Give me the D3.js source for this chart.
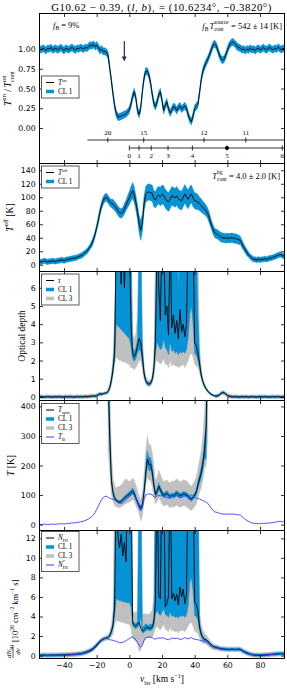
<!DOCTYPE html>
<html><head><meta charset="utf-8">
<script src="https://cdnjs.cloudflare.com/ajax/libs/d3/7.8.5/d3.min.js"></script>
<style>body{margin:0;background:#fff}svg{display:block}</style>
</head><body>
<script>
// ---------------- DATA ----------------
const velocity = d3.range(-55, 96); // channel grid, km/s (1 km/s spacing)
const xTicks = [-40, -20, 0, 20, 40, 60, 80];

// Panel 1: T_on / T_on_cont
const ton = [
1.00,0.99,1.01,1.00,0.98,1.01,1.00,1.02,0.99,1.00,
1.01,0.99,1.00,1.02,1.00,0.98,1.01,1.00,0.99,1.01,
1.02,1.00,0.99,1.01,1.00,1.02,1.01,1.00,1.02,1.01,
1.03,1.05,1.04,1.06,1.03,1.05,1.02,0.98,1.00,0.97,
0.97,0.96,0.92,0.76,0.60,0.43,0.28,0.18,0.14,0.14,
0.15,0.16,0.17,0.18,0.20,0.23,0.30,0.40,0.46,0.38,
0.22,0.17,0.26,0.47,0.63,0.72,0.72,0.67,0.57,0.43,
0.31,0.27,0.33,0.42,0.46,0.35,0.22,0.29,0.33,0.24,
0.19,0.23,0.27,0.26,0.22,0.26,0.28,0.24,0.26,0.28,
0.25,0.17,0.11,0.08,0.15,0.25,0.27,0.30,0.45,0.61,
0.72,0.78,0.83,0.87,0.92,0.98,1.04,1.07,1.05,1.00,
0.93,0.88,0.86,0.87,0.92,0.98,1.04,1.07,1.09,1.08,
1.06,1.03,1.02,1.01,0.99,1.00,0.98,1.00,0.99,1.01,
0.99,1.00,0.98,1.00,1.01,0.99,1.00,1.02,1.00,0.99,
1.01,1.02,1.00,0.99,1.01,1.00,1.02,1.01,0.99,1.01,
1.00];
const tonErr = 0.045;
const yTicks1 = [0, 0.25, 0.5, 0.75, 1.0];
const rgalVel = [-13.2, 8.8, 45.7, 71.3];
const rgalLabels = ["20", "15", "12", "11"];
const rgalStart = -25.7;
const distVel = [0, 5.9, 13.4, 23.7, 38.6, 59.8, 93.6];
const distLabels = ["0", "1", "2", "3", "4", "5", "6"];
const distMarked = 5;
const arrowVel = -3.1, arrowFrom = 1.10, arrowTo = 0.85;

// Panel 2: T_off
const toff = [
5,4,5,6,5,4,5,5,6,5,
5,6,6,7,7,6,7,8,8,9,
9,10,10,11,12,13,14,16,18,20,
23,27,31,37,45,55,66,78,88,95,
99,100,97,93,91,90,87,84,80,77,
76,78,83,88,94,99,105,110,104,92,
78,60,51,62,90,104,107,108,107,106,
98,96,101,103,101,104,103,98,95,93,
97,102,101,99,102,98,96,95,100,105,
100,97,102,105,99,95,94,93,90,88,
85,83,80,76,69,61,54,48,46,45,
43,41,40,40,39,40,39,40,40,39,
39,38,37,36,31,26,22,18,15,12,
10,8,8,7,8,7,8,8,9,8,
9,10,10,11,12,13,14,15,15,13,
13];
const toffErr = [
4,4,4,4,4,4,4,4,4,4,
4,4,4,4,4,4,4,4,4,4,
4,4,4,4,4,4,4,4,4,4,
4,4,5,5,5,5,6,6,6,6,
6,6,6,6,6,7,7,7,7,7,
7,7,8,8,9,10,11,12,12,11,
11,13,15,13,12,12,12,12,12,12,
12,12,13,13,14,14,14,14,14,14,
14,14,14,14,14,14,14,14,14,14,
14,14,14,13,13,12,12,11,10,10,
9,9,8,8,8,7,7,7,7,7,
7,7,7,7,7,7,7,7,7,7,
7,7,7,6,6,5,5,5,4,4,
4,4,4,4,4,4,4,4,4,4,
4,4,4,4,4,4,4,4,4,4,
4];
const yTicks2 = [0, 20, 40, 60, 80, 100, 120, 140];

// Panel 3: optical depth (values above the frame are saturated)
const tau = [
0.00,0.01,0.00,-0.01,0.00,0.01,0.00,0.00,-0.01,0.01,
0.00,0.00,0.01,0.00,-0.01,0.00,0.01,0.00,0.00,0.01,
0.00,-0.01,0.00,0.01,0.00,0.01,0.00,0.01,0.02,0.01,
0.02,0.03,0.04,0.05,0.04,0.06,0.12,0.16,0.15,0.17,
0.20,0.22,0.30,0.50,0.90,1.50,2.40,9,9,9,
6.2,9,6.0,9,9,9,4.0,2.4,2.2,2.4,
2.8,3.2,3.0,2.2,1.3,0.90,0.75,0.70,0.75,0.95,
1.5,3.0,9,6.0,4.2,9,9,4.5,5.0,3.4,
9,3.8,4.5,3.5,4.2,3.2,4.8,3.6,4.0,3.3,
4.0,9,9,9,9,3.0,2.8,2.4,1.8,1.2,
0.85,0.60,0.45,0.32,0.22,0.15,0.10,0.06,0.04,0.06,
0.10,0.18,0.24,0.22,0.16,0.08,0.04,0.02,0.01,0.00,
0.01,0.00,-0.01,0.00,0.01,0.00,0.00,0.01,-0.01,0.00,
0.01,0.00,0.00,-0.01,0.00,0.01,0.00,0.00,0.01,0.00,
0.00,-0.01,0.00,0.01,0.00,0.00,0.01,0.00,-0.01,0.00,
0.00];
const tauCoreStart = -16; // core band arrays cover -16 .. 52 km/s
const tauCl1Lo = [
0.14,0.17,0.19,0.25,0.44,0.80,1.32,2.00,4.0,3.9,
3.8,3.7,3.6,3.5,3.4,3.3,3.2,2.8,2.1,1.95,
2.1,2.4,2.6,2.5,1.9,1.15,0.80,0.67,0.62,0.67,
0.85,1.30,2.4,3.0,2.8,2.6,2.7,3.2,2.7,2.6,
2.3,3.0,2.5,2.6,2.4,2.5,2.3,2.5,2.4,2.5,
2.4,2.6,3.2,4.5,5.0,4.0,2.4,2.3,2.0,1.6,
1.1,0.78,0.54,0.40,0.28,0.18,0.12,0.07,0.03];
const tauCl1Hi = [
0.20,0.23,0.25,0.35,0.60,1.05,1.80,3.2,9,9,
9,9,9,9,9,9,9,9,2.7,2.5,
2.7,3.2,9,9,2.7,1.5,1.0,0.83,0.78,0.84,
1.07,1.75,4.5,9,9,6.5,9,9,9,9,
9,9,9,9,9,9,6.0,9,9,9,
9,9,9,9,9,9,9,9,4.5,2.2,
1.35,0.93,0.66,0.50,0.36,0.26,0.19,0.13,0.09];
const tauCl3Lo = [
0.10,0.12,0.13,0.15,0.30,0.60,1.10,1.80,2.2,2.1,
2.0,2.0,1.9,1.9,1.9,1.8,1.8,1.6,1.6,1.5,
1.6,1.8,2.0,2.0,1.5,1.0,0.70,0.58,0.55,0.58,
0.75,1.10,1.9,2.0,1.9,1.8,1.9,2.1,1.8,1.8,
1.6,2.0,1.7,1.8,1.7,1.7,1.6,1.7,1.7,1.8,
1.6,1.8,2.0,2.3,2.4,2.2,1.8,1.7,1.6,1.3,
0.95,0.68,0.47,0.34,0.23,0.14,0.08,0.03,0.00];
const tauCl3Hi = [
0.25,0.29,0.32,0.45,0.75,1.30,2.2,4.5,9,9,
9,9,9,9,9,9,9,9,3.5,3.2,
3.5,4.5,9,9,3.5,1.8,1.15,0.95,0.90,0.95,
1.2,2.1,9,9,9,9,9,9,9,9,
9,9,9,9,9,9,9,9,9,9,
9,9,9,9,9,9,9,9,9,2.8,
1.6,1.05,0.75,0.57,0.42,0.31,0.23,0.17,0.13];
const tauWingCl1 = 0.05, tauWingCl3 = 0.11;
const yTicks3 = [0, 1, 2, 3, 4, 5, 6];

// Panel 4: spin temperature (defined -13 .. 48 km/s) and brightness temperature
const spinStart = -13;
const tspin = [
500,300,150,108,90,82,78,76,79,84,
90,95,99,103,108,114,106,90,76,65,
55,68,110,170,222,203,205,180,135,102,
112,130,118,106,99,102,106,100,94,100,
97,102,106,102,98,100,104,103,101,96,
89,86,92,100,110,135,155,175,205,250,
330,600];
const tspinCl1Lo = [
420,260,135,100,84,77,73,71,74,78,
84,88,92,95,99,104,97,82,69,58,
47,60,100,152,198,182,185,162,122,94,
102,118,108,97,91,94,97,92,87,92,
89,94,97,94,90,92,96,95,93,88,
82,79,85,92,100,122,140,158,185,225,
220,500];
const tspinCl1Hi = [
600,350,168,117,96,87,83,81,84,90,
96,102,106,111,117,124,115,98,83,72,
63,76,120,190,250,226,228,200,150,110,
122,142,128,115,107,110,115,108,101,108,
105,110,115,110,106,108,112,111,109,104,
96,93,99,108,120,148,170,195,228,280,
350,600];
const tspinCl3Lo = [
250,180,100,78,64,60,58,57,60,64,
68,71,74,76,80,84,78,64,52,38,
12,30,75,130,160,150,150,130,95,70,
78,92,82,70,62,65,68,62,56,62,
58,62,66,62,58,60,64,63,60,55,
50,48,54,60,70,90,110,125,150,190,
200,300];
const tspinCl3Hi = [
600,500,250,160,130,125,128,130,135,140,
150,155,150,145,150,158,150,135,115,95,
85,110,170,250,300,270,270,245,200,150,
160,185,170,155,145,148,150,145,140,148,
145,150,155,150,145,147,152,150,148,142,
135,130,138,148,160,190,220,250,300,380,
600,600];
const tb = [
1,0,1,2,1,0,1,1,2,1,
1,2,2,3,3,2,3,4,4,5,
5,6,6,7,8,9,10,12,14,16,
19,23,27,33,41,51,62,74,84,91,
95,96,93,89,87,86,83,80,76,73,
72,74,79,84,90,95,101,106,100,88,
74,56,47,58,86,100,103,104,103,102,
94,92,97,99,97,100,99,94,91,89,
93,98,97,95,98,94,92,91,96,101,
96,93,98,101,95,91,90,89,86,84,
81,79,76,72,65,57,50,44,42,41,
39,37,36,36,35,36,35,36,36,35,
35,34,33,32,27,22,18,14,11,8,
6,4,4,3,4,3,4,4,5,4,
5,6,6,7,8,9,10,11,11,9,
9];
const yTicks4 = [0, 100, 200, 300, 400];

// Panel 5: column density per channel (10^20 cm^-2 km^-1 s)
const nhi = [
0.03,0.02,0.03,0.04,0.03,0.02,0.03,0.03,0.04,0.03,
0.04,0.05,0.05,0.06,0.06,0.06,0.07,0.08,0.09,0.10,
0.11,0.12,0.13,0.15,0.17,0.19,0.22,0.26,0.31,0.37,
0.44,0.52,0.62,0.74,0.90,1.08,1.27,1.45,1.58,1.68,
1.75,1.80,1.85,2.05,2.45,3.1,5.0,20,12.2,11.0,
12.4,10.2,11.6,9.6,20,20,20,3.4,3.1,3.0,
3.2,3.4,2.8,2.5,2.6,2.8,2.9,2.8,2.8,2.9,
3.4,5.5,20,6.2,5.8,20,20,5.0,5.3,6.1,
20,5.8,6.4,5.6,6.3,5.2,7.0,6.0,6.8,5.3,
6.2,20,20,20,20,5.5,5.2,4.6,2.9,2.2,
1.85,1.70,1.60,1.52,1.35,1.15,1.02,0.92,0.85,0.80,
0.74,0.70,0.68,0.67,0.64,0.64,0.62,0.63,0.64,0.63,
0.62,0.64,0.65,0.62,0.52,0.42,0.34,0.26,0.20,0.14,
0.10,0.07,0.05,0.04,0.04,0.03,0.04,0.05,0.06,0.07,
0.08,0.10,0.12,0.13,0.15,0.16,0.18,0.19,0.20,0.19,
0.18];
const nhiCoreStart = -16; // core band arrays cover -16 .. 52 km/s
const nhiCl1Lo = [
1.58,1.66,1.72,1.76,1.92,2.25,2.8,4.0,5.8,5.7,
5.6,5.6,5.5,5.5,5.4,5.4,5.4,5.0,3.1,2.85,
2.75,2.9,3.1,4.0,2.3,2.35,2.55,2.65,2.55,2.55,
2.65,3.0,4.2,4.6,4.3,4.1,4.4,4.8,4.2,4.1,
3.9,4.5,4.0,4.1,3.9,4.0,3.8,4.1,4.0,4.1,
3.9,4.2,5.0,7.5,8.0,6.5,4.1,4.0,3.6,2.5,
1.95,1.6,1.5,1.43,1.27,1.07,0.94,0.84,0.77];
const nhiCl1Hi = [
1.78,1.84,1.88,1.94,2.18,2.65,3.5,7.0,20,20,
20,20,20,20,20,20,20,20,3.7,3.35,
3.25,3.5,20,20,2.9,3.05,3.25,3.15,3.05,3.25,
3.15,4.0,20,20,20,20,20,20,20,20,
20,20,20,20,20,20,20,20,20,20,
20,20,20,20,20,20,20,20,20,3.5,
2.45,2.0,1.8,1.67,1.53,1.3,1.1,1.0,0.93];
const nhiCl3Lo = [
1.45,1.5,1.55,1.6,1.7,1.9,2.2,3.2,3.6,3.5,
3.5,3.4,3.4,3.3,3.3,3.2,3.2,2.8,1.8,1.6,
1.5,1.2,0.4,0.6,1.2,1.5,1.7,1.8,1.8,1.8,
1.9,2.2,2.8,3.0,2.8,2.6,2.9,3.2,2.7,2.6,
2.4,2.9,2.5,2.6,2.4,2.5,2.3,2.6,2.5,2.6,
2.4,2.7,3.0,3.3,3.4,3.0,2.5,2.4,2.2,1.8,
1.4,1.25,1.2,1.15,1.0,0.85,0.72,0.62,0.55];
const nhiCl3Hi = [
1.95,2.0,2.05,2.15,2.5,3.2,4.6,20,20,20,
20,20,20,20,20,20,20,20,4.6,4.4,
4.4,4.6,20,20,4.3,4.2,4.3,4.2,4.2,4.4,
4.6,6.0,20,20,20,20,20,20,20,20,
20,20,20,20,20,20,20,20,20,20,
20,20,20,20,20,20,20,20,20,4.6,
3.2,2.6,2.3,2.1,1.9,1.65,1.4,1.25,1.15];
const nhiWingCl1 = 0.12, nhiWingCl3 = 0.25;
const nStar = [
0.02,0.00,0.02,0.04,0.02,0.00,0.02,0.02,0.04,0.02,
0.02,0.04,0.04,0.05,0.05,0.04,0.05,0.07,0.07,0.09,
0.09,0.11,0.11,0.13,0.15,0.16,0.18,0.22,0.26,0.29,
0.35,0.42,0.49,0.60,0.75,0.93,1.13,1.35,1.53,1.66,
1.73,1.75,1.70,1.62,1.59,1.57,1.51,1.46,1.39,1.33,
1.31,1.35,1.44,1.53,1.64,1.73,1.84,1.93,1.82,1.60,
1.35,1.02,0.86,1.06,1.57,1.82,1.88,1.90,1.88,1.86,
1.71,1.68,1.77,1.80,1.77,1.82,1.80,1.71,1.66,1.62,
1.70,1.79,1.77,1.73,1.79,1.71,1.68,1.66,1.75,1.84,
1.75,1.70,1.79,1.84,1.73,1.66,1.64,1.62,1.57,1.53,
1.48,1.44,1.39,1.31,1.18,1.04,0.91,0.80,0.77,0.75,
0.71,0.67,0.66,0.66,0.64,0.66,0.64,0.66,0.66,0.64,
0.64,0.62,0.60,0.58,0.49,0.40,0.33,0.26,0.20,0.15,
0.11,0.07,0.07,0.05,0.07,0.05,0.07,0.07,0.09,0.07,
0.09,0.11,0.11,0.13,0.15,0.16,0.18,0.20,0.20,0.16,
0.16];
const yTicks5 = [0, 2, 4, 6, 8, 10, 12];

// ---------------- STYLE / LAYOUT ----------------
const BLUE = "#0693d6", GRAY = "#c0c0c0", PURPLE = "#3c3cff";
const SERIF = "'Liberation Serif', 'DejaVu Serif', serif";
const SANS = "'DejaVu Sans', sans-serif";
const W = 287, H = 688, L = 39.5, R = 284.5;

const svg = d3.select("body").append("svg").attr("width", W).attr("height", H)
  .attr("viewBox", `0 0 ${W} ${H}`);
const x = d3.scaleLinear().domain([-55, 95]).range([L, R]);

const panelDefs = [
  {y0: 13.5, y1: 163.5, dom: [-0.45, 1.45], ticks: yTicks1, fmt: d3.format(".2f")},
  {y0: 163.5, y1: 271.5, dom: [-10, 150], ticks: yTicks2, fmt: d3.format("d")},
  {y0: 271.5, y1: 400.5, dom: [-0.2, 6.9], ticks: yTicks3, fmt: d3.format("d")},
  {y0: 400.5, y1: 530.5, dom: [-20, 420], ticks: yTicks4, fmt: d3.format("d")},
  {y0: 530.5, y1: 658.5, dom: [-0.3, 12.8], ticks: yTicks5, fmt: d3.format("d")}
];
const P = panelDefs.map((p, k) => {
  const y = d3.scaleLinear().domain(p.dom).range([p.y1, p.y0]);
  const id = "clip" + k;
  svg.append("clipPath").attr("id", id).append("rect")
    .attr("x", L).attr("y", p.y0).attr("width", R - L).attr("height", p.y1 - p.y0);
  const g = svg.append("g").attr("clip-path", `url(#${id})`);
  return Object.assign({}, p, {y, g});
});

function drawBand(p, data, color) {
  p.g.append("path").datum(data).attr("fill", color).attr("stroke", color).attr("stroke-width", 0.4)
    .attr("d", d3.area().x(d => x(d.v)).y0(d => p.y(d.lo)).y1(d => p.y(d.hi)));
}
function drawLine(p, vel, vals, color, w) {
  const data = vel.map((v, i) => ({v, val: vals[i]}));
  p.g.append("path").datum(data).attr("fill", "none").attr("stroke", color)
    .attr("stroke-width", w).attr("stroke-linejoin", "round")
    .attr("d", d3.line().defined(d => d.val != null).x(d => x(d.v)).y(d => p.y(d.val)));
}
function coreBand(core0, lo, hi, line, wing) {
  return velocity.map((v, i) => {
    const k = v - core0;
    if (k >= 0 && k < lo.length) return {v, lo: lo[k], hi: hi[k]};
    return {v, lo: line[i] - wing, hi: line[i] + wing};
  });
}

// math-ish text helper: parts = [text, style, dx]
// style: "i" italic, "^" superscript, "_" subscript, "s" = stack under previous superscript
function mtext(sel, parts, size, attrs, opts) {
  const o = Object.assign({sup: -0.45, sub: 0.28}, opts || {});
  const t = sel.append("text").attr("font-family", SERIF).attr("font-size", size).attr("fill", "#000");
  Object.entries(attrs || {}).forEach(([k, v]) => t.attr(k, v));
  let cur = 0, prev = null, pending = 0;
  parts.forEach(([s, st, dx]) => {
    let off = 0, fs = size;
    if (st.includes("^")) { off = o.sup * size; fs = size * 0.65; }
    if (st.includes("_")) { off = o.sub * size; fs = size * 0.65; }
    const ts = t.append("tspan").text(s).attr("font-size", fs).attr("dy", off - cur);
    if (st.includes("i")) ts.attr("font-style", "italic");
    let shift = (dx || 0) + pending;
    pending = 0;
    if (st.includes("s") && prev) {
      const wPrev = prev.node().getComputedTextLength();
      shift -= wPrev;
      ts.attr("dx", shift);
      const wThis = ts.node().getComputedTextLength();
      pending = Math.max(0, wPrev - wThis) + 0.3;
    } else if (shift) ts.attr("dx", shift);
    prev = ts;
    cur = off;
  });
  return t;
}

// ---- Panel 1 ----
const p1 = P[0];
drawBand(p1, velocity.map((v, i) => ({v, lo: ton[i] - tonErr, hi: ton[i] + tonErr})), BLUE);
drawLine(p1, velocity, ton, "#000", 0.9);
// ---- Panel 2 ----
const p2 = P[1];
drawBand(p2, velocity.map((v, i) => ({v, lo: toff[i] - toffErr[i], hi: toff[i] + toffErr[i]})), BLUE);
drawLine(p2, velocity, toff, "#000", 0.9);
// ---- Panel 3 ----
const p3 = P[2];
drawBand(p3, coreBand(tauCoreStart, tauCl3Lo, tauCl3Hi, tau, tauWingCl3), GRAY);
drawBand(p3, coreBand(tauCoreStart, tauCl1Lo, tauCl1Hi, tau, tauWingCl1), BLUE);
drawLine(p3, velocity, tau, "#000", 0.9);
// ---- Panel 4 ----
const p4 = P[3];
const spinVel = tspin.map((_, i) => spinStart + i);
drawBand(p4, spinVel.map((v, i) => ({v, lo: tspinCl3Lo[i], hi: tspinCl3Hi[i]})), GRAY);
drawBand(p4, spinVel.map((v, i) => ({v, lo: tspinCl1Lo[i], hi: tspinCl1Hi[i]})), BLUE);
drawLine(p4, spinVel, tspin, "#000", 0.9);
drawLine(p4, velocity, tb, PURPLE, 0.9);
// ---- Panel 5 ----
const p5 = P[4];
drawBand(p5, coreBand(nhiCoreStart, nhiCl3Lo, nhiCl3Hi, nhi, nhiWingCl3), GRAY);
drawBand(p5, coreBand(nhiCoreStart, nhiCl1Lo, nhiCl1Hi, nhi, nhiWingCl1), BLUE);
drawLine(p5, velocity, nhi, "#000", 0.9);
drawLine(p5, velocity, nStar, PURPLE, 0.9);

// ---- Frames and axes ----
P.forEach((p, k) => {
  svg.append("rect").attr("x", L).attr("y", p.y0).attr("width", R - L).attr("height", p.y1 - p.y0)
    .attr("fill", "none").attr("stroke", "#000").attr("stroke-width", 1);
  const ax = [
    svg.append("g").attr("transform", `translate(${L},0)`)
      .call(d3.axisLeft(p.y).tickValues(p.ticks).tickSize(-3.5).tickPadding(3.8).tickFormat(p.fmt)),
    svg.append("g").attr("transform", `translate(${R},0)`)
      .call(d3.axisRight(p.y).tickValues(p.ticks).tickSize(-3.5).tickFormat("")),
    svg.append("g").attr("transform", `translate(0,${p.y0})`)
      .call(d3.axisTop(x).tickValues(xTicks).tickSize(-3.5).tickFormat("")),
    svg.append("g").attr("transform", `translate(0,${p.y1})`)
      .call(d3.axisBottom(x).tickValues(xTicks).tickSize(-3.5).tickPadding(4)
        .tickFormat(k === 4 ? d3.format("d") : ""))
  ];
  ax.forEach(a => {
    a.select(".domain").remove();
    a.attr("font-family", SANS).attr("font-size", 7.8);
    a.selectAll("line").attr("stroke", "#000").attr("stroke-width", 0.8);
    a.selectAll("text").attr("fill", "#000");
  });
});

// ---- Panel 1 extras: distance / radius scales, arrow, annotations ----
{
  const yR = p1.y0 + 126.5, yD = p1.y0 + 134.5;
  svg.append("line").attr("x1", x(rgalStart)).attr("x2", R).attr("y1", yR).attr("y2", yR)
    .attr("stroke", "#000").attr("stroke-width", 0.8);
  rgalVel.forEach((v, i) => {
    svg.append("line").attr("x1", x(v)).attr("x2", x(v)).attr("y1", yR - 2.5).attr("y2", yR + 2.5)
      .attr("stroke", "#000").attr("stroke-width", 0.8);
    svg.append("text").attr("x", x(v)).attr("y", yR - 5).attr("text-anchor", "middle")
      .attr("font-family", SERIF).attr("font-size", 7).text(rgalLabels[i]);
  });
  svg.append("line").attr("x1", x(distVel[0])).attr("x2", R).attr("y1", yD).attr("y2", yD)
    .attr("stroke", "#000").attr("stroke-width", 0.8);
  distVel.forEach((v, i) => {
    svg.append("line").attr("x1", x(v)).attr("x2", x(v)).attr("y1", yD - 2.5).attr("y2", yD + 2.5)
      .attr("stroke", "#000").attr("stroke-width", 0.8);
    svg.append("text").attr("x", x(v)).attr("y", yD + 9.5).attr("text-anchor", "middle")
      .attr("font-family", SERIF).attr("font-size", 7).text(distLabels[i]);
  });
  svg.append("circle").attr("cx", x(distVel[distMarked])).attr("cy", yD).attr("r", 2).attr("fill", "#000");
  // arrow
  const ax0 = x(arrowVel), ay0 = p1.y(arrowFrom), ay1 = p1.y(arrowTo);
  svg.append("line").attr("x1", ax0).attr("x2", ax0).attr("y1", ay0).attr("y2", ay1 - 3)
    .attr("stroke", "#000").attr("stroke-width", 1);
  svg.append("path").attr("d", `M${ax0 - 2},${ay1 - 4} L${ax0 + 2},${ay1 - 4} L${ax0},${ay1} Z`)
    .attr("fill", "#23238c").attr("stroke", "#000").attr("stroke-width", 0.4);
  mtext(svg, [["f", "i"], ["B", "_"], [" = 9%", ""]], 8.5, {x: 53, y: 28});
  mtext(svg, [["f", "i"], ["B", "_"], ["T", "i", 1], ["source", "^"], ["cont", "_s"], [" = 542 ± 14 [K]", ""]], 8.5,
    {x: 282, y: 28.5, "text-anchor": "end"}, {sup: -0.52, sub: 0.33});
}
// Panel 2 annotation
mtext(svg, [["T", "i"], ["bg", "^"], ["cont", "_s"], [" = 4.0 ± 2.0 [K]", ""]], 8.5,
  {x: 280, y: 178.5, "text-anchor": "end"}, {sup: -0.52, sub: 0.33});

// ---- Title ----
mtext(svg, [["G10.62 − 0.39, (", ""], ["l", "i"], [", ", ""], ["b", "i"], [")", ""], ["1", "_"],
  [" = (10.6234°, −0.3820°)", ""]], 10.8, {x: 161.5, y: 10.5, "text-anchor": "middle", "letter-spacing": 0.55});

// ---- Legends ----
function legend(top, entries) {
  const g = svg.append("g");
  const h = 13 + (entries.length - 1) * 9;
  g.append("rect").attr("x", 41.5).attr("y", top).attr("width", 37.5).attr("height", h)
    .attr("fill", "#fff").attr("stroke", "#333").attr("stroke-width", 0.8);
  entries.forEach((e, i) => {
    const yy = top + 6.5 + i * 9;
    g.append("line").attr("x1", 46).attr("x2", 54).attr("y1", yy).attr("y2", yy)
      .attr("stroke", e.color).attr("stroke-width", e.w);
    mtext(g, e.label, 7.2, {x: 58, y: yy + 2.4}, {sup: e.sup || -0.45, sub: 0.2});
  });
}
const CL1 = {color: BLUE, w: 3.5, label: [["CL 1", ""]]};
const CL3 = {color: GRAY, w: 3.5, label: [["CL 3", ""]]};
legend(76, [{color: "#000", w: 1, label: [["T", "i"], ["on", "^"]]}, CL1]);
legend(166, [{color: "#000", w: 1, label: [["T", "i"], ["off", "^"]]}, CL1]);
legend(274, [{color: "#000", w: 1, label: [["τ", "i"]]}, CL1, CL3]);
legend(403.5, [{color: "#000", w: 1, label: [["T", "i"], ["spin", "_"]]}, CL1, CL3,
  {color: PURPLE, w: 1, label: [["T", "i"], ["B", "_"]]}]);
legend(531.5, [{color: "#000", w: 1, label: [["N", "i"], ["HI", "_"]]}, CL1, CL3,
  {color: PURPLE, w: 1, sup: -0.6, label: [["N", "i"], ["*", "^"], ["HI", "_s"]]}]);

// ---- Axis labels ----
function ylab(tx, ty, parts, size, opts) {
  const g = svg.append("g").attr("transform", `translate(${tx},${ty}) rotate(-90)`);
  mtext(g, parts, size, {x: 0, y: 0, "text-anchor": "middle"}, opts);
}
ylab(11, 88.5, [["T", "i"], ["on", "^"], [" /", ""], ["T", "i", 2], ["on", "^"], ["cont", "_s"]], 9.5, {sup: -0.5, sub: 0.33});
ylab(12.5, 217.5, [["T", "i"], ["off", "^"], [" [K]", ""]], 9.5);
ylab(25, 336, [["Optical depth", ""]], 9.5);
ylab(14, 465.5, [["T", "i"], [" [K]", ""]], 9.5);
{
  const g = svg.append("g").attr("transform", `translate(13,601) rotate(-90)`);
  mtext(g, [["dN", "i"], ["HI", "_"]], 7, {x: -57, y: -2});
  g.append("line").attr("x1", -57).attr("x2", -44).attr("y1", 0).attr("y2", 0).attr("stroke", "#000").attr("stroke-width", 0.6);
  mtext(g, [["dv", "i"]], 7, {x: -50.5, y: 6.5, "text-anchor": "middle"});
  mtext(g, [["[10", ""], ["20", "^"], [" cm", ""], ["−2", "^"], [" km", ""], ["−1", "^"], [" s]", ""]], 8.5,
    {x: -41, y: 4.5});
}
mtext(svg, [["v", "i"], ["lsr", "_"], [" [km s", ""], ["−1", "^"], ["]", ""]], 9.5,
  {x: 162, y: 682, "text-anchor": "middle"});
</script>
</body></html>
